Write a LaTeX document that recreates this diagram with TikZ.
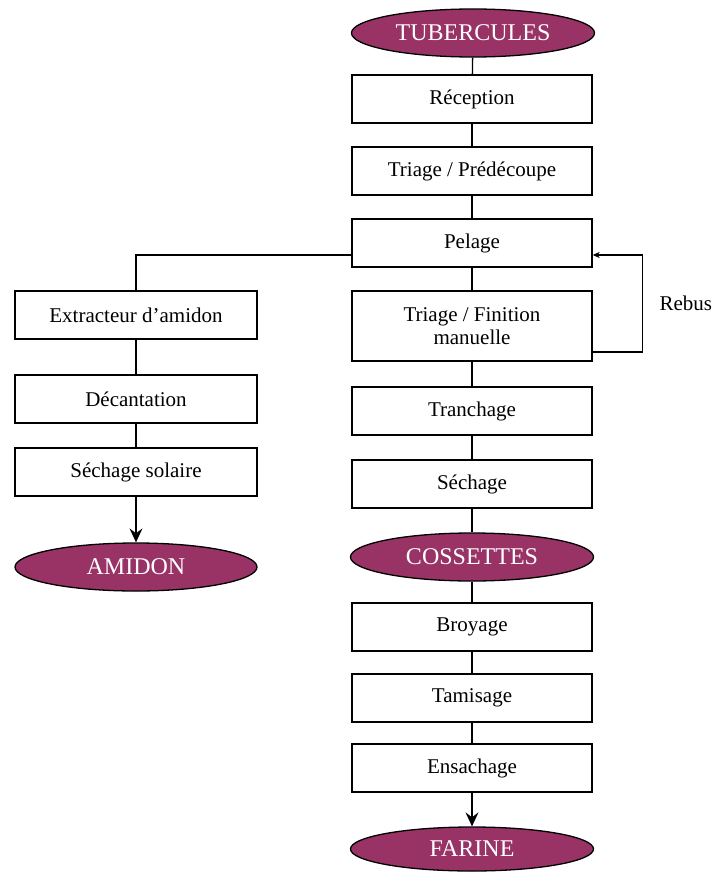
\documentclass[tikz,border=0pt]{standalone}
\usepackage{fontspec}
\setmainfont{Liberation Serif}
\usetikzlibrary{shapes.geometric,arrows.meta}
\definecolor{prune}{RGB}{153,51,102}

\begin{document}
\begin{tikzpicture}[x=1pt,y=-1pt]
\tikzset{
  etape/.style={draw=black,line width=1.3pt,rectangle,minimum width=240pt,minimum height=48pt,inner sep=0pt,align=center,font=\fontsize{21}{23}\selectfont},
  produit/.style={draw=black,line width=1.3pt,ellipse,fill=prune,text=white,minimum width=243pt,minimum height=48pt,inner sep=0pt,font=\fontsize{24}{26}\selectfont},
  lien/.style={line width=1.3pt},
  fleche/.style={line width=1.3pt,-{Stealth[length=14pt,width=13pt,inset=5pt]}}
}
\useasboundingbox (0,0) rectangle (715,872);
% colonne de droite
\node[produit] (tub) at (473,33) {TUBERCULES};
\node[etape] (recep) at (472,99) {Réception};
\node[etape] (triage) at (472,171) {Triage / Prédécoupe};
\node[etape] (pelage) at (472,243) {Pelage};
\node[etape,minimum height=70pt] (finition) at (472,326) {Triage / Finition\\manuelle};
\node[etape] (tranch) at (472,411) {Tranchage};
\node[etape] (sech) at (472,484) {Séchage};
\node[produit] (coss) at (472,557) {COSSETTES};
\node[etape] (broy) at (472,627) {Broyage};
\node[etape] (tamis) at (472,698) {Tamisage};
\node[etape] (ensach) at (472,768) {Ensachage};
\node[produit,minimum height=44pt] (farine) at (472,849) {FARINE};
% colonne de gauche
\node[etape,minimum width=242pt] (extract) at (136,315) {Extracteur d’amidon};
\node[etape,minimum width=242pt] (decant) at (136,399) {Décantation};
\node[etape,minimum width=242pt] (solaire) at (136,472) {Séchage solaire};
\node[produit,minimum width=242pt] (amidon) at (136,567) {AMIDON};
\node[anchor=west,font=\fontsize{21}{23}\selectfont] (rebus) at (656,303) {Rebus};
% liaisons
\draw[lien] (tub) -- (recep);
\draw[lien] (recep) -- (triage);
\draw[lien] (triage) -- (pelage);
\draw[lien] (pelage) -- (finition);
\draw[lien] (finition) -- (tranch);
\draw[lien] (tranch) -- (sech);
\draw[lien] (sech) -- (coss);
\draw[lien] (coss) -- (broy);
\draw[lien] (broy) -- (tamis);
\draw[lien] (tamis) -- (ensach);
\draw[fleche] (ensach) -- (farine);
\draw[lien] ([yshift=-12pt]pelage.west) -| (extract.north);
\draw[lien] (extract) -- (decant);
\draw[lien] (decant) -- (solaire);
\draw[fleche] (solaire) -- (amidon);
% boucle des rebus
\draw[line width=1.3pt,-{Stealth[length=7pt,width=6pt,inset=2pt]}] ([yshift=-26pt]finition.east) -- ++(50,0) |- ([yshift=-12pt]pelage.east);
\end{tikzpicture}
\end{document}
